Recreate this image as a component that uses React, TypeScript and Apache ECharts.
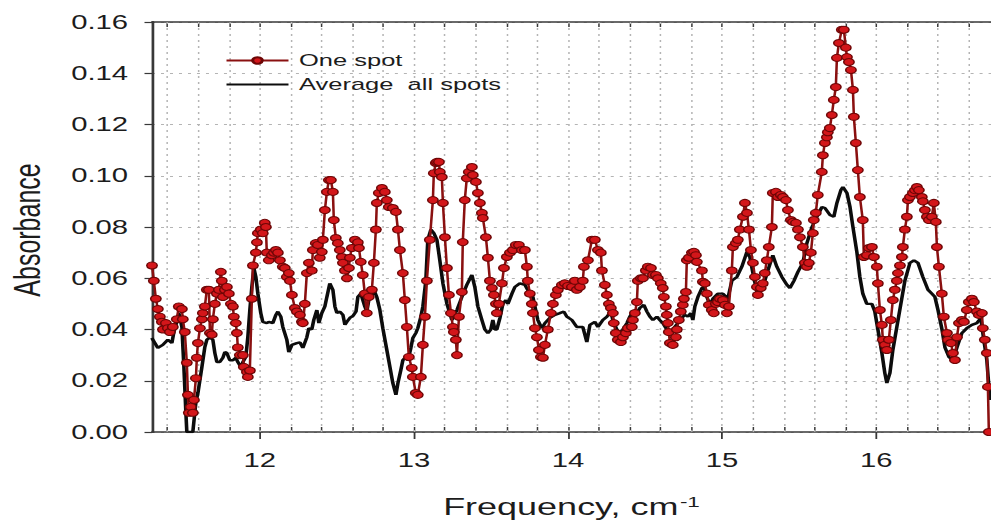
import React, { useEffect, useRef } from "react";
import * as echarts from "echarts";

// Absorbance spectrum of a single spot (red, with markers): [frequency cm^-1, absorbance]
const oneSpot: [number, number][] = [
  [11.300,0.0650],[11.312,0.0590],[11.325,0.0520],[11.338,0.0480],[11.351,0.0450],[11.364,0.0430],[11.371,0.0400],[11.390,0.0425],[11.403,0.0405],[11.416,0.0390],
  [11.435,0.0410],[11.461,0.0440],[11.474,0.0490],[11.494,0.0480],[11.500,0.0440],[11.513,0.0390],[11.526,0.0270],[11.533,0.0145],[11.539,0.0075],[11.552,0.0098],
  [11.565,0.0075],[11.572,0.0125],[11.585,0.0210],[11.591,0.0290],[11.598,0.0347],[11.611,0.0405],[11.624,0.0440],[11.630,0.0464],[11.643,0.0490],[11.656,0.0555],
  [11.669,0.0555],[11.676,0.0386],[11.688,0.0380],[11.695,0.0440],[11.708,0.0500],[11.721,0.0540],[11.734,0.0555],[11.747,0.0625],[11.753,0.0590],[11.760,0.0527],
  [11.773,0.0555],[11.786,0.0566],[11.799,0.0540],[11.812,0.0500],[11.825,0.0490],[11.831,0.0450],[11.844,0.0425],[11.851,0.0386],[11.857,0.0330],[11.870,0.0300],
  [11.890,0.0300],[11.896,0.0254],[11.916,0.0234],[11.922,0.0215],[11.935,0.0240],[11.948,0.0520],[11.955,0.0650],[11.974,0.0700],[11.981,0.0740],[11.987,0.0776],
  [12.006,0.0790],[12.019,0.0776],[12.032,0.0816],[12.039,0.0800],[12.045,0.0700],[12.058,0.0670],[12.078,0.0690],[12.091,0.0700],[12.104,0.0710],[12.117,0.0700],
  [12.130,0.0670],[12.149,0.0645],[12.162,0.0640],[12.175,0.0605],[12.188,0.0620],[12.195,0.0590],[12.208,0.0535],[12.227,0.0484],[12.240,0.0470],[12.260,0.0457],
  [12.273,0.0430],[12.279,0.0425],[12.292,0.0500],[12.305,0.0620],[12.318,0.0660],[12.337,0.0630],[12.344,0.0710],[12.363,0.0737],[12.376,0.0730],[12.389,0.0680],
  [12.402,0.0703],[12.409,0.0750],[12.422,0.0866],[12.435,0.0937],[12.448,0.0983],[12.461,0.0983],[12.474,0.0937],[12.480,0.0827],[12.493,0.0757],[12.506,0.0737],
  [12.519,0.0710],[12.532,0.0683],[12.539,0.0660],[12.552,0.0630],[12.565,0.0600],[12.578,0.0640],[12.584,0.0680],[12.597,0.0718],[12.617,0.0750],[12.636,0.0740],
  [12.643,0.0718],[12.655,0.0664],[12.668,0.0613],[12.681,0.0540],[12.694,0.0464],[12.707,0.0527],[12.727,0.0555],[12.740,0.0660],[12.753,0.0790],[12.759,0.0894],
  [12.772,0.0933],[12.792,0.0952],[12.811,0.0937],[12.824,0.0905],[12.837,0.0878],[12.863,0.0874],[12.883,0.0859],[12.896,0.0790],[12.909,0.0710],[12.928,0.0620],
  [12.941,0.0515],[12.954,0.0410],[12.967,0.0293],[12.986,0.0250],[12.993,0.0215],[13.012,0.0152],[13.025,0.0145],[13.045,0.0215],[13.058,0.0340],[13.071,0.0450],
  [13.084,0.0590],[13.103,0.0750],[13.123,0.0905],[13.129,0.1010],[13.142,0.1050],[13.149,0.1054],[13.162,0.1054],[13.168,0.1015],[13.181,0.0995],[13.188,0.0894],
  [13.201,0.0760],[13.214,0.0640],[13.227,0.0535],[13.240,0.0464],[13.253,0.0410],[13.259,0.0390],[13.272,0.0360],[13.279,0.0300],[13.292,0.0450],[13.311,0.0546],
  [13.317,0.0741],[13.330,0.0905],[13.343,0.0990],[13.356,0.1015],[13.376,0.1034],[13.382,0.1003],[13.402,0.0976],[13.415,0.0933],[13.428,0.0894],[13.441,0.0855],
  [13.447,0.0835],[13.467,0.0760],[13.480,0.0680],[13.493,0.0590],[13.506,0.0562],[13.519,0.0535],[13.532,0.0500],[13.538,0.0464],[13.551,0.0500],[13.571,0.0580],
  [13.584,0.0640],[13.603,0.0683],[13.623,0.0700],[13.642,0.0710],[13.661,0.0730],[13.681,0.0730],[13.700,0.0710],[13.720,0.0710],[13.733,0.0645],[13.739,0.0590],
  [13.752,0.0540],[13.765,0.0500],[13.772,0.0464],[13.785,0.0405],[13.798,0.0370],[13.811,0.0320],[13.824,0.0293],[13.837,0.0290],[13.850,0.0340],[13.869,0.0400],
  [13.889,0.0464],[13.902,0.0500],[13.921,0.0535],[13.934,0.0555],[13.960,0.0574],[13.979,0.0580],[13.999,0.0570],[14.025,0.0566],[14.044,0.0590],[14.057,0.0555],
  [14.077,0.0566],[14.096,0.0590],[14.103,0.0645],[14.129,0.0670],[14.155,0.0750],[14.174,0.0750],[14.194,0.0710],[14.213,0.0700],[14.220,0.0630],[14.239,0.0574],
  [14.252,0.0535],[14.265,0.0500],[14.278,0.0484],[14.291,0.0464],[14.297,0.0425],[14.310,0.0386],[14.323,0.0360],[14.343,0.0351],[14.356,0.0370],[14.375,0.0386],
  [14.388,0.0405],[14.414,0.0410],[14.421,0.0437],[14.434,0.0464],[14.447,0.0507],[14.453,0.0590],[14.473,0.0600],[14.486,0.0600],[14.505,0.0630],[14.518,0.0645],
  [14.538,0.0640],[14.551,0.0613],[14.570,0.0613],[14.583,0.0600],[14.602,0.0580],[14.615,0.0562],[14.622,0.0527],[14.635,0.0490],[14.641,0.0457],[14.648,0.0425],
  [14.654,0.0390],[14.661,0.0347],[14.680,0.0340],[14.700,0.0370],[14.706,0.0400],[14.719,0.0437],[14.732,0.0470],[14.745,0.0496],[14.752,0.0520],[14.765,0.0546],
  [14.771,0.0670],[14.784,0.0680],[14.804,0.0700],[14.817,0.0703],[14.830,0.0690],[14.836,0.0664],[14.869,0.0630],[14.875,0.0586],[14.888,0.0580],[14.901,0.0540],
  [14.914,0.0496],[14.933,0.0476],[14.946,0.0464],[14.959,0.0500],[14.972,0.0507],[14.985,0.0520],[15.005,0.0515],[15.018,0.0496],[15.031,0.0464],[15.044,0.0490],
  [15.063,0.0630],[15.070,0.0722],[15.089,0.0737],[15.102,0.0750],[15.115,0.0790],[15.135,0.0840],[15.148,0.0894],[15.161,0.0855],[15.174,0.0790],[15.187,0.0710],
  [15.200,0.0660],[15.213,0.0605],[15.226,0.0566],[15.232,0.0535],[15.251,0.0562],[15.264,0.0580],[15.277,0.0620],[15.290,0.0670],[15.303,0.0722],[15.323,0.0800],
  [15.329,0.0933],[15.349,0.0937],[15.362,0.0917],[15.381,0.0925],[15.394,0.0917],[15.414,0.0905],[15.427,0.0866],[15.446,0.0827],[15.459,0.0820],[15.479,0.0816],
  [15.492,0.0790],[15.505,0.0760],[15.524,0.0722],[15.537,0.0660],[15.550,0.0645],[15.563,0.0660],[15.576,0.0700],[15.589,0.0776],[15.595,0.0827],[15.608,0.0855],
  [15.621,0.0925],[15.647,0.1015],[15.654,0.1080],[15.667,0.1128],[15.680,0.1150],[15.686,0.1170],[15.699,0.1186],[15.712,0.1237],[15.725,0.1296],[15.738,0.1346],
  [15.745,0.1460],[15.758,0.1518],[15.777,0.1570],[15.790,0.1570],[15.803,0.1500],[15.810,0.1463],[15.823,0.1444],[15.836,0.1413],[15.849,0.1335],[15.855,0.1230],
  [15.868,0.1128],[15.881,0.1022],[15.894,0.0917],[15.913,0.0827],[15.920,0.0683],[15.939,0.0690],[15.952,0.0718],[15.972,0.0722],[15.985,0.0683],[16.004,0.0645],
  [16.011,0.0580],[16.024,0.0476],[16.037,0.0418],[16.043,0.0360],[16.056,0.0340],[16.069,0.0320],[16.082,0.0360],[16.095,0.0437],[16.108,0.0515],[16.121,0.0555],
  [16.134,0.0590],[16.141,0.0620],[16.154,0.0650],[16.167,0.0683],[16.173,0.0722],[16.186,0.0790],[16.199,0.0840],[16.206,0.0905],[16.219,0.0917],[16.238,0.0933],
  [16.251,0.0944],[16.264,0.0956],[16.277,0.0944],[16.296,0.0917],[16.303,0.0900],[16.316,0.0866],[16.329,0.0840],[16.342,0.0827],[16.361,0.0840],[16.374,0.0894],
  [16.387,0.0820],[16.394,0.0722],[16.407,0.0645],[16.426,0.0540],[16.439,0.0450],[16.459,0.0386],[16.465,0.0360],[16.485,0.0347],[16.498,0.0308],[16.511,0.0281],
  [16.524,0.0370],[16.537,0.0425],[16.556,0.0437],[16.569,0.0430],[16.588,0.0476],[16.601,0.0507],[16.621,0.0520],[16.634,0.0507],[16.653,0.0470],[16.666,0.0457],
  [16.686,0.0464],[16.692,0.0405],[16.705,0.0360],[16.718,0.0308],[16.725,0.0176],[16.731,0.0000],
];

// Average absorbance over all spots (black line): [frequency cm^-1, absorbance]
const averageAllSpots: [number, number][] = [
  [11.299,0.0367],[11.338,0.0328],[11.370,0.0340],[11.403,0.0360],[11.429,0.0347],[11.442,0.0390],[11.461,0.0430],[11.474,0.0464],[11.494,0.0410],[11.507,0.0254],
  [11.520,0.0074],[11.526,0.0000],[11.565,0.0000],[11.585,0.0117],[11.598,0.0152],[11.624,0.0254],[11.643,0.0332],[11.656,0.0360],[11.676,0.0370],[11.695,0.0360],
  [11.708,0.0308],[11.721,0.0273],[11.740,0.0273],[11.760,0.0290],[11.773,0.0312],[11.786,0.0308],[11.805,0.0280],[11.825,0.0280],[11.844,0.0290],[11.857,0.0273],
  [11.877,0.0254],[11.890,0.0273],[11.909,0.0293],[11.922,0.0370],[11.935,0.0476],[11.948,0.0566],[11.961,0.0640],[11.974,0.0605],[11.987,0.0540],[12.006,0.0464],
  [12.019,0.0430],[12.045,0.0425],[12.058,0.0430],[12.084,0.0425],[12.104,0.0457],[12.117,0.0470],[12.136,0.0450],[12.149,0.0410],[12.175,0.0360],[12.188,0.0312],
  [12.208,0.0340],[12.240,0.0347],[12.260,0.0350],[12.279,0.0328],[12.305,0.0370],[12.318,0.0405],[12.337,0.0400],[12.350,0.0437],[12.370,0.0476],[12.383,0.0425],
  [12.402,0.0464],[12.422,0.0490],[12.435,0.0527],[12.454,0.0580],[12.474,0.0555],[12.487,0.0490],[12.500,0.0464],[12.519,0.0470],[12.539,0.0457],[12.552,0.0418],
  [12.565,0.0430],[12.584,0.0445],[12.604,0.0453],[12.624,0.0470],[12.636,0.0527],[12.655,0.0540],[12.668,0.0515],[12.681,0.0490],[12.694,0.0470],[12.707,0.0515],
  [12.727,0.0535],[12.746,0.0546],[12.759,0.0527],[12.779,0.0476],[12.798,0.0405],[12.824,0.0320],[12.844,0.0254],[12.863,0.0191],[12.883,0.0145],[12.896,0.0191],
  [12.915,0.0242],[12.928,0.0280],[12.948,0.0293],[12.961,0.0280],[12.980,0.0328],[12.993,0.0367],[13.012,0.0386],[13.025,0.0405],[13.045,0.0450],[13.058,0.0490],
  [13.077,0.0590],[13.090,0.0750],[13.110,0.0790],[13.129,0.0776],[13.149,0.0750],[13.168,0.0670],[13.188,0.0580],[13.214,0.0500],[13.246,0.0437],[13.279,0.0476],
  [13.311,0.0527],[13.343,0.0574],[13.376,0.0613],[13.395,0.0566],[13.415,0.0490],[13.441,0.0437],[13.460,0.0400],[13.480,0.0386],[13.499,0.0400],[13.512,0.0437],
  [13.525,0.0400],[13.538,0.0400],[13.558,0.0445],[13.577,0.0500],[13.597,0.0515],[13.610,0.0500],[13.636,0.0540],[13.655,0.0566],[13.687,0.0580],[13.720,0.0574],
  [13.746,0.0546],[13.772,0.0527],[13.785,0.0490],[13.804,0.0437],[13.830,0.0405],[13.850,0.0425],[13.882,0.0445],[13.915,0.0457],[13.947,0.0464],[13.973,0.0470],
  [13.992,0.0450],[14.025,0.0437],[14.057,0.0410],[14.096,0.0410],[14.122,0.0351],[14.142,0.0418],[14.174,0.0430],[14.194,0.0410],[14.226,0.0437],[14.252,0.0450],
  [14.278,0.0470],[14.291,0.0437],[14.317,0.0400],[14.336,0.0386],[14.356,0.0400],[14.382,0.0425],[14.401,0.0450],[14.421,0.0470],[14.447,0.0464],[14.466,0.0484],
  [14.492,0.0496],[14.512,0.0470],[14.531,0.0450],[14.551,0.0437],[14.577,0.0450],[14.596,0.0437],[14.615,0.0425],[14.641,0.0400],[14.674,0.0390],[14.693,0.0410],
  [14.713,0.0425],[14.739,0.0445],[14.758,0.0457],[14.778,0.0450],[14.797,0.0464],[14.810,0.0437],[14.823,0.0490],[14.843,0.0527],[14.869,0.0562],[14.882,0.0566],
  [14.901,0.0527],[14.921,0.0496],[14.940,0.0520],[14.972,0.0540],[15.005,0.0540],[15.037,0.0520],[15.063,0.0590],[15.096,0.0605],[15.128,0.0645],[15.161,0.0703],
  [15.180,0.0683],[15.200,0.0620],[15.226,0.0546],[15.239,0.0540],[15.258,0.0574],[15.277,0.0590],[15.297,0.0630],[15.329,0.0690],[15.355,0.0645],[15.388,0.0605],
  [15.421,0.0574],[15.440,0.0562],[15.466,0.0590],[15.492,0.0625],[15.524,0.0660],[15.550,0.0737],[15.583,0.0800],[15.615,0.0840],[15.648,0.0878],[15.667,0.0874],
  [15.700,0.0847],[15.725,0.0840],[15.745,0.0894],[15.771,0.0944],[15.784,0.0956],[15.810,0.0933],[15.830,0.0878],[15.849,0.0800],[15.875,0.0700],[15.894,0.0605],
  [15.913,0.0540],[15.939,0.0500],[15.972,0.0500],[15.991,0.0470],[16.011,0.0400],[16.037,0.0308],[16.056,0.0230],[16.069,0.0191],[16.089,0.0230],[16.108,0.0320],
  [16.134,0.0410],[16.160,0.0500],[16.186,0.0590],[16.219,0.0660],[16.245,0.0670],[16.271,0.0660],[16.303,0.0605],[16.336,0.0555],[16.361,0.0540],[16.381,0.0527],
  [16.401,0.0476],[16.427,0.0400],[16.446,0.0330],[16.472,0.0293],[16.498,0.0280],[16.524,0.0330],[16.556,0.0386],[16.588,0.0405],[16.621,0.0418],[16.653,0.0425],
  [16.679,0.0445],[16.692,0.0386],[16.718,0.0280],[16.738,0.0125],
];

// Labelled frequency ticks and axis ranges
const freqTickLabels = [12, 13, 14, 15, 16];
const freqMin = 11.3;
const freqMax = 16.745;
const absMin = 0;
const absMax = 0.16;
const absStep = 0.02;

const SERIES_ONE = "One spot";
const SERIES_AVG = "Average  all spots";

// The figure is drawn on a narrower canvas and widened horizontally
const CANVAS_W = 661;
const CANVAS_H = 523;
const STRETCH = 991 / CANVAS_W;

const FONT = "'Liberation Sans', Arial, Helvetica, sans-serif";
const INK = "#1c1c1c";
const AXIS = "#383838";
const GRID = "#b4b4b4";
const RED_LINE = "#8a1010";
const RED_FILL = "#d3161a";
const RED_EDGE = "#6e0606";
const BLACK_LINE = "#0c0c0c";

export default function App() {
  const ref = useRef<HTMLDivElement>(null);

  useEffect(() => {
    const el = ref.current;
    if (!el) return;
    const chart = echarts.init(el, undefined, { renderer: "svg" });

    // minor frequency steps of 0.2 cm^-1 inside the plotted range
    const minorFreqs: number[] = [];
    for (let i = Math.ceil(freqMin / 0.2 + 1e-6); i * 0.2 <= freqMax + 1e-9; i++) {
      minorFreqs.push(Number((i * 0.2).toFixed(1)));
    }

    const option: echarts.EChartsOption = {
      animation: false,
      backgroundColor: "#ffffff",
      grid: { left: 152 / STRETCH, right: 0, top: 22, bottom: CANVAS_H - 432, containLabel: false },
      legend: {
        data: [
          { name: SERIES_ONE },
          { name: SERIES_AVG, itemStyle: { opacity: 0 } },
        ],
        orient: "vertical",
        left: 225 / STRETCH - 5,
        top: 47,
        itemWidth: 62 / STRETCH,
        itemHeight: 8,
        itemGap: 7,
        selectedMode: false,
        textStyle: { fontSize: 17, fontFamily: FONT, color: INK, padding: [0, 0, 0, 2] },
      },
      xAxis: [
        {
          type: "value",
          min: freqMin,
          max: freqMax,
          position: "bottom",
          axisLine: { show: true, onZero: false, lineStyle: { color: AXIS, width: 1.6 } },
          axisTick: { show: true, inside: false, length: 7, customValues: freqTickLabels, lineStyle: { color: AXIS, width: 1.2 } },
          axisLabel: {
            show: true,
            customValues: freqTickLabels,
            margin: 18,
            fontSize: 19.5,
            fontFamily: FONT,
            color: INK,
            formatter: (v: number) => String(v),
          },
          splitLine: { show: false },
          name: "{t|Frequency, cm}{s|-1}",
          nameLocation: "middle",
          nameGap: 62,
          nameTextStyle: {
            rich: {
              t: { fontSize: 24, fontFamily: FONT, color: INK },
              s: { fontSize: 15, fontFamily: FONT, color: INK, verticalAlign: "top", padding: [0, 0, 0, 1] },
            },
          },
        },
        {
          type: "value",
          min: freqMin,
          max: freqMax,
          position: "bottom",
          axisLine: { show: false },
          axisTick: { show: true, inside: true, length: 5, customValues: minorFreqs, lineStyle: { color: AXIS, width: 1 } },
          axisLabel: { show: false },
          splitLine: { show: false },
        },
        {
          type: "value",
          min: freqMin,
          max: freqMax,
          position: "top",
          axisLine: { show: true, onZero: false, lineStyle: { color: AXIS, width: 1.6 } },
          axisTick: { show: true, inside: true, length: 5, customValues: minorFreqs, lineStyle: { color: AXIS, width: 1 } },
          axisLabel: { show: false },
          splitLine: { show: false },
        },
      ],
      yAxis: {
        type: "value",
        min: absMin,
        max: absMax,
        interval: absStep,
        axisLine: { show: true, onZero: false, lineStyle: { color: AXIS, width: 1.8 } },
        axisTick: { show: true, inside: false, length: 5, lineStyle: { color: AXIS, width: 1.2 } },
        axisLabel: {
          margin: 16,
          fontSize: 19.5,
          fontFamily: FONT,
          color: INK,
          formatter: (v: number) => v.toFixed(2),
        },
        splitLine: { show: true, lineStyle: { color: GRID, width: 1, type: [2, 4] } },
      },
      graphic: [
        {
          type: "text",
          x: 18,
          y: 230,
          rotation: Math.PI / 2,
          style: {
            text: "Absorbance",
            fontSize: 25,
            fontFamily: FONT,
            fill: INK,
            align: "center",
            verticalAlign: "middle",
          },
        },
      ],
      series: [
        {
          name: "frequency grid",
          type: "line",
          data: [],
          silent: true,
          z: 1,
          markLine: {
            silent: true,
            z: 1,
            symbol: ["none", "none"],
            label: { show: false },
            lineStyle: { color: GRID, width: 1, type: [2, 4] },
            data: minorFreqs.map((f) => ({ xAxis: f })),
          },
        },
        {
          name: SERIES_AVG,
          type: "line",
          data: averageAllSpots,
          symbol: "none",
          z: 2,
          lineStyle: { color: BLACK_LINE, width: 2.4 },
          itemStyle: { color: BLACK_LINE },
        },
        {
          name: SERIES_ONE,
          type: "line",
          data: oneSpot,
          symbol: "circle",
          symbolSize: 7,
          showAllSymbol: true,
          z: 3,
          lineStyle: { color: RED_LINE, width: 1.7 },
          itemStyle: { color: RED_FILL, borderColor: RED_EDGE, borderWidth: 1 },
        },
      ],
    };

    chart.setOption(option);
    return () => chart.dispose();
  }, []);

  return (
    <div
      ref={ref}
      style={{
        position: "fixed",
        left: 0,
        top: 0,
        width: CANVAS_W,
        height: CANVAS_H,
        transform: `scaleX(${STRETCH})`,
        transformOrigin: "0 0",
        background: "#ffffff",
      }}
    />
  );
}
